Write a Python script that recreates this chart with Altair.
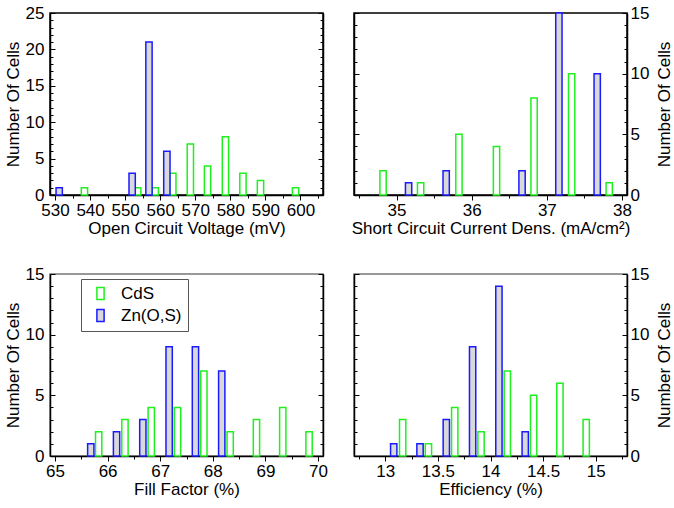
import json
import altair as alt
import pandas as pd

SERIES = ["CdS", "Zn(O,S)"]

# Open circuit voltage (mV)
voc_cds_x = [538.4, 553.6, 558.6, 563.6, 568.6, 573.5, 578.6, 583.6, 588.6, 598.6]
voc_cds_n = [1, 1, 1, 3, 7, 4, 8, 3, 2, 1]
voc_zn_x = [531.2, 552.0, 556.8, 561.9]
voc_zn_n = [1, 3, 21, 6]

# Short circuit current density (mA/cm2)
jsc_cds_x = [34.82, 35.32, 35.83, 36.33, 36.83, 37.33, 37.83]
jsc_cds_n = [2, 1, 5, 4, 8, 10, 1]
jsc_zn_x = [35.16, 35.66, 36.67, 37.16, 37.67]
jsc_zn_n = [1, 2, 2, 15, 10]

# Fill factor (%)
ff_cds_x = [65.83, 66.33, 66.83, 67.33, 67.83, 68.33, 68.83, 69.33, 69.83]
ff_cds_n = [2, 3, 4, 4, 7, 2, 3, 4, 2]
ff_zn_x = [65.68, 66.17, 66.67, 67.17, 67.67, 68.17]
ff_zn_n = [1, 2, 3, 9, 9, 7]

# Efficiency (%)
eff_cds_x = [13.165, 13.41, 13.66, 13.91, 14.16, 14.41, 14.66, 14.91]
eff_cds_n = [3, 1, 4, 2, 7, 5, 6, 3]
eff_zn_x = [13.08, 13.33, 13.58, 13.83, 14.08, 14.33]
eff_zn_n = [1, 1, 3, 9, 14, 2]

GREEN = "#1ff01f"
BLUE = "#1a1aff"
GRAY_FILL = "#d9d9d9"
FONT = "Liberation Sans"
FS = 17
W, H = 273, 182


def in_list(vals):
    return f"indexof({json.dumps(vals)}, datum.value) >= 0"


def panel(cds_x, cds_n, zn_x, zn_n, xdom, xmajor, xminor, ymax, xtitle,
          side, show_legend=False, top_color="black"):
    df = pd.DataFrame({
        "x": list(cds_x) + list(zn_x),
        "n": list(cds_n) + list(zn_n),
        "s": [SERIES[0]] * len(cds_x) + [SERIES[1]] * len(zn_x),
    })
    ymajor = list(range(0, ymax + 1, 5))
    yall = list(range(0, ymax + 1))
    xall = sorted(xmajor + xminor)
    xscale = alt.Scale(domain=xdom, nice=False, zero=False)
    yscale = alt.Scale(domain=[0, ymax], nice=False)
    inner = "right" if side == "left" else "left"

    x_axis = alt.Axis(
        values=xall, title=xtitle, format=".2~f",
        labelExpr=f"{in_list(xmajor)} ? datum.label : ''",
        tickSize={"condition": {"test": in_list(xmajor), "value": 5}, "value": 3},
        labelOverlap=False, labelFlush=False, grid=False,
        labelPadding=2, titlePadding=2,
    )
    if side == "left":
        y_label_axis = alt.Axis(
            orient="left", values=ymajor, title="Number Of Cells", ticks=False,
            tickSize=0, labelPadding=6, titleAngle=270, titlePadding=3,
            labelFlush=False, grid=False, format="d",
        )
    else:
        y_label_axis = alt.Axis(
            orient="right", values=ymajor, title="Number Of Cells", ticks=False,
            tickSize=0, labelPadding=3, titleAngle=270, titleBaseline="top",
            titlePadding=8, labelFlush=False, grid=False, format="d",
        )
    ytick = {"condition": {"test": "datum.value % 5 === 0", "value": 5}, "value": 3}
    # inward ticks on the outer edge
    y_outer_ticks = alt.Axis(
        orient=inner, offset=-W, values=yall, tickSize=ytick, labels=False,
        domain=False, title=None, grid=False,
    )
    # inward ticks on the inner edge (and frame line)
    y_inner_ticks = alt.Axis(
        orient=side, offset=-W, values=yall, tickSize=ytick, labels=False,
        domain=True, title=None, grid=False,
    )

    if show_legend:
        leg = alt.Legend(
            title=None, orient="none", legendX=31, legendY=5,
            symbolType="M-0.6,-1H0.6V1H-0.6Z", symbolSize=144,
            symbolStrokeWidth=1.5, labelFont=FONT, labelFontSize=FS,
            labelOffset=12, padding=6, symbolOffset=5, rowPadding=3,
            strokeColor="#555555", fillColor="white", direction="vertical",
            labelColor="black",
        )
    else:
        leg = None

    bars = alt.Chart(df).mark_bar(size=6.3, strokeWidth=1.5).encode(
        x=alt.X("x:Q", scale=xscale, axis=x_axis),
        y=alt.Y("n:Q", scale=yscale, axis=y_label_axis),
        stroke=alt.Stroke("s:N", scale=alt.Scale(domain=SERIES, range=[GREEN, BLUE]), legend=leg),
        fill=alt.Fill("s:N", scale=alt.Scale(domain=SERIES, range=["white", GRAY_FILL]), legend=leg),
    )
    l2 = alt.Chart(df).mark_point(opacity=0).encode(
        x=alt.X("x:Q", scale=xscale, axis=None),
        y=alt.Y("n:Q", scale=yscale, axis=y_outer_ticks),
    )
    l3 = alt.Chart(df).mark_point(opacity=0).encode(
        x=alt.X("x:Q", scale=xscale, axis=None),
        y=alt.Y("n:Q", scale=yscale, axis=y_inner_ticks),
    )
    return alt.layer(bars, l2, l3).resolve_axis(
        x="independent", y="independent"
    ).properties(
        width=W, height=H,
        view=alt.ViewBackground(stroke=top_color, strokeWidth=1.5),
    )


p1 = panel(voc_cds_x, voc_cds_n, voc_zn_x, voc_zn_n, [530, 605],
           [530, 540, 550, 560, 570, 580, 590, 600],
           [535, 545, 555, 565, 575, 585, 595, 605],
           25, "Open Circuit Voltage (mV)", "left")
p2 = panel(jsc_cds_x, jsc_cds_n, jsc_zn_x, jsc_zn_n, [34.5, 38],
           [35, 36, 37, 38], [34.5, 35.5, 36.5, 37.5],
           15, "Short Circuit Current Dens. (mA/cm²)", "right")
p3 = panel(ff_cds_x, ff_cds_n, ff_zn_x, ff_zn_n, [65, 70],
           [65, 66, 67, 68, 69, 70], [65.5, 66.5, 67.5, 68.5, 69.5],
           15, "Fill Factor (%)", "left", show_legend=True, top_color="#777777")
p4 = panel(eff_cds_x, eff_cds_n, eff_zn_x, eff_zn_n, [12.75, 15.25],
           [13, 13.5, 14, 14.5, 15], [12.75, 13.25, 13.75, 14.25, 14.75, 15.25],
           15, "Efficiency (%)", "right", top_color="#777777")

chart = alt.concat(
    p1, p2, p3, p4, columns=2,
    spacing={"row": 79, "column": 31}, bounds="flush",
).resolve_scale(
    x="independent", y="independent", stroke="independent", fill="independent"
).properties(
    padding={"left": 3, "top": 3, "right": 0, "bottom": 5},
).configure(
    font=FONT,
).configure_axis(
    labelFont=FONT, labelFontSize=FS, titleFont=FONT, titleFontSize=FS,
    titleFontWeight="normal", labelColor="black", titleColor="black",
    domainColor="black", tickColor="black", domainWidth=1.5, tickWidth=1,
)

chart.save("out.html", embed_options={"renderer": "svg", "actions": False})
